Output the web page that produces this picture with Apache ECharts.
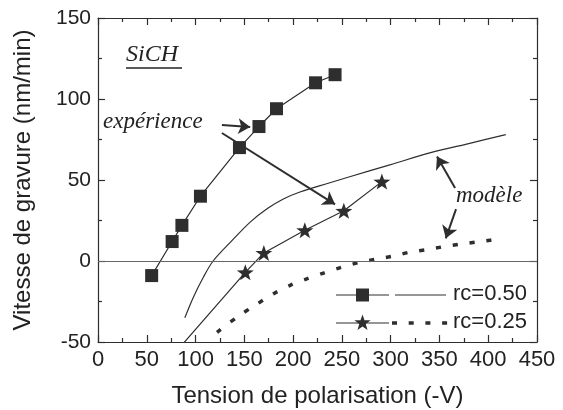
<!DOCTYPE html>
<html>
<head>
<meta charset="utf-8">
<script src="https://cdn.jsdelivr.net/npm/echarts@6/dist/echarts.min.js"></script>
<style>html,body{margin:0;padding:0;background:#fff}#c{width:563px;height:410px}</style>
</head>
<body>
<div id="c"></div>
<script>
// Data
const xTicks = [0, 50, 100, 150, 200, 250, 300, 350, 400, 450];
const yTicks = [-50, 0, 50, 100, 150];
const expSquareX = [55, 76, 86, 105, 145, 165, 183, 223, 243];
const expSquareY = [-9, 12, 22, 40, 70, 83, 94, 110, 115];
const expStarX = [80, 151, 170, 212, 252, 291];
const expStarY = [-56, -7, 5, 19, 31, 49];
const model050X = [89, 98, 108, 118, 138, 156, 174, 190, 207, 236, 258, 300, 340, 380, 418];
const model050Y = [-35, -22, -10, 0, 13, 24, 32.5, 38.3, 42.6, 48, 52, 59.5, 66.7, 72.5, 78];
const model025X = [122, 144, 162, 179, 197, 214, 232, 250, 268, 286, 303, 320, 339, 354, 373, 392, 415];
const model025Y = [-44, -34, -27, -20.5, -15, -11, -7.3, -3.8, -0.9, 1.2, 3.1, 5.5, 7.2, 8.8, 10.5, 12, 14];

const INK = '#2e2e2e';
const STAR = 'path://M0,-10 L2.35,-3.24 L9.51,-3.09 L3.8,1.24 L5.88,8.09 L0,4 L-5.88,8.09 L-3.8,1.24 L-9.51,-3.09 L-2.35,-3.24 Z';

const zip = (xs, ys) => xs.map((x, i) => [x, ys[i]]);
const starData = zip(expStarX, expStarY).map((p, i) => i === 0 ? {value: p, symbol: 'none'} : p);

const sans = '"Liberation Sans", Arial, sans-serif';
const serif = '"Liberation Serif", "Times New Roman", serif';

function starPoints(cx, cy, R) {
  const pts = [];
  for (let k = 0; k < 10; k++) {
    const r = k % 2 === 0 ? R : R * 0.4;
    const a = -Math.PI / 2 + k * Math.PI / 5;
    pts.push([cx + r * Math.cos(a), cy + r * Math.sin(a)]);
  }
  return pts;
}

const axisCommon = {
  axisLine: {show: true, onZero: false, lineStyle: {color: INK, width: 1.2}},
  axisTick: {show: true, inside: true, length: 7, lineStyle: {color: INK, width: 1.2}},
  minorTick: {show: true, splitNumber: 2, length: 4, lineStyle: {color: INK, width: 1.2}},
  splitLine: {show: false}
};

const chart = echarts.init(document.getElementById('c'), null, {renderer: 'canvas'});
chart.setOption({
  animation: false,
  backgroundColor: '#fff',
  grid: {left: 98, right: 26, top: 18, bottom: 68, containLabel: false, outerBoundsMode: 'none'},
  xAxis: [
    Object.assign({type: 'value', min: xTicks[0], max: xTicks[xTicks.length - 1], interval: 50, position: 'bottom',
      name: 'Tension de polarisation (-V)', nameLocation: 'middle', nameGap: 42,
      nameTextStyle: {fontFamily: sans, fontSize: 24, color: '#222'},
      axisLabel: {fontFamily: sans, fontSize: 22, color: '#222', margin: 7}}, axisCommon),
    Object.assign({type: 'value', min: xTicks[0], max: xTicks[xTicks.length - 1], interval: 50, position: 'top',
      axisLabel: {show: false}}, axisCommon)
  ],
  yAxis: [
    Object.assign({type: 'value', min: yTicks[0], max: yTicks[yTicks.length - 1], interval: 50, position: 'left',
      name: 'Vitesse de gravure (nm/min)', nameLocation: 'middle', nameGap: 63,
      nameTextStyle: {fontFamily: sans, fontSize: 24, color: '#222'},
      axisLabel: {fontFamily: sans, fontSize: 21, color: '#222', margin: 7}}, axisCommon),
    Object.assign({type: 'value', min: yTicks[0], max: yTicks[yTicks.length - 1], interval: 50, position: 'right',
      axisLabel: {show: false}}, axisCommon)
  ],
  series: [
    {
      name: 'model050', type: 'line', data: zip(model050X, model050Y), smooth: 0.3, showSymbol: false,
      lineStyle: {color: INK, width: 1.2}, silent: true, z: 2,
      markLine: {
        silent: true, animation: false, symbol: ['none', 'arrow'], symbolSize: 12,
        label: {show: false},
        lineStyle: {color: INK, width: 2, type: 'solid'},
        data: [
          [{coord: [0, 0], symbol: 'none', lineStyle: {color: '#666', width: 1.2}}, {coord: [450, 0], symbol: 'none'}],
          [{coord: [127, 84]}, {coord: [156, 82.7]}],
          [{coord: [127, 79]}, {coord: [243, 35]}],
          [{coord: [366, 45]}, {coord: [347.5, 64.5]}],
          [{coord: [367, 32]}, {coord: [356.5, 14]}]
        ]
      }
    },
    {
      name: 'model025', type: 'line', data: zip(model025X, model025Y), smooth: 0.3, showSymbol: false,
      lineStyle: {color: INK, width: 3.5, type: [5, 12], cap: 'butt'}, silent: true, z: 2
    },
    {
      name: 'expSquares', type: 'line', data: zip(expSquareX, expSquareY), symbol: 'rect', symbolSize: 13,
      itemStyle: {color: INK}, lineStyle: {color: INK, width: 1.2}, z: 3
    },
    {
      name: 'expStars', type: 'line', data: starData, symbol: STAR, symbolSize: [17, 16],
      itemStyle: {color: INK}, lineStyle: {color: INK, width: 1.2}, z: 3
    }
  ],
  graphic: [
    {type: 'text', left: 126, top: 43, style: {text: 'SiCH', font: 'italic 24px ' + serif, fill: '#222'}},
    {type: 'line', shape: {x1: 126, y1: 68, x2: 182, y2: 68}, style: {stroke: '#222', lineWidth: 1.3}},
    {type: 'text', left: 103, top: 110, style: {text: 'expérience', font: 'italic 23px ' + serif, fill: '#222'}},
    {type: 'text', left: 456, top: 184, style: {text: 'modèle', font: 'italic 23px ' + serif, fill: '#222'}},
    // legend row 1
    {type: 'line', shape: {x1: 336, y1: 295, x2: 389, y2: 295}, style: {stroke: INK, lineWidth: 1.2}},
    {type: 'rect', shape: {x: 356, y: 288.5, width: 13, height: 13}, style: {fill: INK}},
    {type: 'line', shape: {x1: 395, y1: 295, x2: 446, y2: 295}, style: {stroke: INK, lineWidth: 1.2}},
    {type: 'text', left: 453, top: 283, style: {text: 'rc=0.50', font: '22px ' + sans, fill: '#222'}},
    // legend row 2
    {type: 'line', shape: {x1: 336, y1: 323, x2: 389, y2: 323}, style: {stroke: INK, lineWidth: 1.2}},
    {type: 'polygon', shape: {points: starPoints(362.5, 323, 8.5)}, style: {fill: INK}},
    {type: 'line', shape: {x1: 392, y1: 323, x2: 450, y2: 323}, style: {stroke: INK, lineWidth: 3.5, lineDash: [5, 11.7]}},
    {type: 'text', left: 453, top: 311, style: {text: 'rc=0.25', font: '22px ' + sans, fill: '#222'}}
  ]
});
</script>
</body>
</html>
